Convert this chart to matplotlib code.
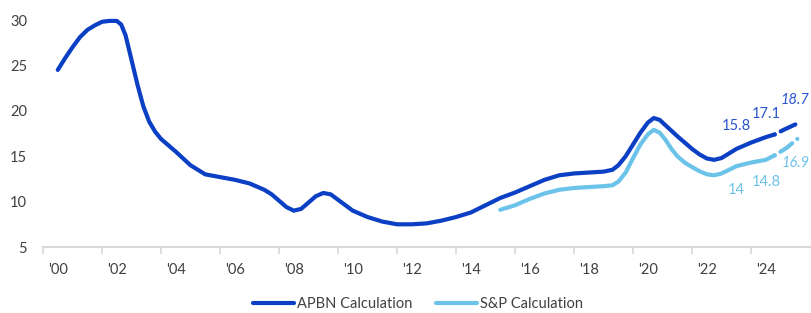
import matplotlib
matplotlib.use("Agg")
import matplotlib.pyplot as plt
import numpy as np

# ---------------- data (years since 2000) ----------------
apbn_x = [0.0, 0.25, 0.5, 0.75, 1.0, 1.25, 1.5, 1.75, 2.0, 2.15, 2.3, 2.5, 2.7,
          2.9, 3.1, 3.3, 3.5, 3.75, 4.0, 4.5, 5.0, 5.5, 6.0, 6.5, 7.0, 7.25, 7.5,
          7.75, 8.0, 8.25, 8.5, 8.75, 9.0, 9.25, 9.5, 9.75, 10.0, 10.5, 11.0,
          11.5, 12.0, 12.5, 13.0, 13.5, 14.0, 14.5, 15.0, 15.5, 16.0, 16.5,
          17.0, 17.5, 18.0, 18.5, 18.8, 19.0, 19.25, 19.5, 19.75, 20.0, 20.2,
          20.4, 20.6, 20.8, 21.0, 21.5, 21.75, 22.0, 22.25, 22.5, 23.0, 23.5,
          24.0, 24.3]
apbn_y = [24.5, 25.8, 27.0, 28.1, 28.9, 29.4, 29.8, 29.9, 29.9, 29.5, 28.3, 25.6,
          22.9, 20.5, 18.8, 17.7, 16.9, 16.2, 15.5, 14.0, 13.0, 12.7, 12.4, 12.0,
          11.3, 10.8, 10.1, 9.4, 9.0, 9.2, 9.9, 10.6, 10.95, 10.8, 10.2, 9.6,
          9.0, 8.3, 7.8, 7.5, 7.5, 7.6, 7.9, 8.3, 8.8, 9.6, 10.4, 11.0, 11.7,
          12.4, 12.9, 13.1, 13.2, 13.3, 13.5, 14.0, 15.0, 16.3, 17.6, 18.7, 19.2,
          19.0, 18.4, 17.8, 17.2, 15.8, 15.2, 14.75, 14.6, 14.8, 15.8, 16.5,
          17.1, 17.4]
apbn_proj_x = [24.3, 24.6, 25.0]
apbn_proj_y = [17.4, 17.9, 18.5]

sp_x = [15.0, 15.5, 16.0, 16.5, 17.0, 17.5, 18.0, 18.5, 18.8, 19.0, 19.25, 19.5,
        19.75, 20.0, 20.2, 20.4, 20.6, 20.8, 21.0, 21.25, 21.5, 21.75, 22.0,
        22.25, 22.5, 23.0, 23.5, 24.0, 24.3]
sp_y = [9.1, 9.6, 10.3, 10.9, 11.3, 11.5, 11.6, 11.7, 11.8, 12.2, 13.2, 14.8,
        16.3, 17.4, 17.9, 17.6, 16.8, 15.8, 15.0, 14.3, 13.8, 13.35, 13.0, 12.9,
        13.1, 13.9, 14.3, 14.6, 15.1]
sp_proj_x = [24.3, 24.7, 25.1]
sp_proj_y = [15.1, 15.9, 17.0]

label_years = [23, 24, 25]
apbn_labels = [15.8, 17.1, 18.7]
sp_labels = [14, 14.8, 16.9]
label_italic = [False, False, True]

tick_labels = ["'00", "'02", "'04", "'06", "'08", "'10", "'12", "'14", "'16",
               "'18", "'20", "'22", "'24"]
y_ticks = [5, 10, 15, 20, 25, 30]

# ---------------- style ----------------
plt.rcParams['font.family'] = ['Lato', 'DejaVu Sans']
DARK = '#0b3fc4'
LIGHT = '#6cc3ea'
DARK_TXT = '#2b55cc'
LIGHT_TXT = '#6cc3ea'
TXT = '#404040'

fig = plt.figure(figsize=(8.11, 3.13), dpi=100)
ax = fig.add_axes([43 / 811, 1 - 247 / 313, 1 - 43 / 811, (247 - 20) / 313])

lw = 3.0
ax.plot(apbn_x, apbn_y, color=DARK, lw=lw, solid_capstyle='round',
        solid_joinstyle='round', label='APBN Calculation', clip_on=False)
ax.plot(apbn_proj_x, apbn_proj_y, color=DARK, lw=lw, dashes=(0.01, 1.6, 4.5, 1.6),
        dash_capstyle='round', clip_on=False)
ax.plot(sp_x, sp_y, color=LIGHT, lw=lw, solid_capstyle='round',
        solid_joinstyle='round', label='S&P Calculation', clip_on=False)
ax.plot(sp_proj_x, sp_proj_y, color=LIGHT, lw=lw, dashes=(0.01, 1.6, 3.5, 1.6),
        dash_capstyle='round', clip_on=False)

for yr, v, it in zip(label_years, apbn_labels, label_italic):
    ax.annotate(f"{v:g}", xy=(yr, v), xytext=(0, 16.5), textcoords='offset points',
                ha='center', va='center', fontsize=10.5, color=DARK_TXT,
                style='italic' if it else 'normal', annotation_clip=False)
for yr, v, it in zip(label_years, sp_labels, label_italic):
    ax.annotate(f"{v:g}", xy=(yr, v), xytext=(0, -17.5), textcoords='offset points',
                ha='center', va='center', fontsize=10.5, color=LIGHT_TXT,
                style='italic' if it else 'normal', annotation_clip=False)

ax.set_xlim(-0.5, 25.53)
ax.set_ylim(5, 30)

# x ticks: marks between labels, labels on even years
ax.set_xticks(np.arange(-0.5, 25, 2))
ax.set_xticklabels([])
ax.set_xticks(np.arange(0, 25, 2), minor=True)
ax.set_xticklabels(tick_labels, minor=True)
ax.tick_params(axis='x', which='major', length=5, width=1.2, color='#d9d9d9')
ax.tick_params(axis='x', which='minor', length=0, pad=11.5, labelsize=10.5,
               labelcolor=TXT)

ax.set_yticks(y_ticks)
ax.tick_params(axis='y', length=0, pad=11.5, labelsize=10.5, labelcolor=TXT)

for s in ['top', 'right', 'left']:
    ax.spines[s].set_visible(False)
ax.spines['bottom'].set_color('#d9d9d9')
ax.spines['bottom'].set_linewidth(1.5)

fig.legend(handles=ax.lines[0:1] + ax.lines[2:3],
           labels=['APBN Calculation', 'S&P Calculation'],
           loc='center', bbox_to_anchor=(418 / 811, 1 - 304 / 313), ncol=2,
           frameon=False, fontsize=10.5, handlelength=2.8, handletextpad=0.2,
           columnspacing=1.6, labelcolor=TXT, borderpad=0.1)

fig.savefig('out.png', dpi=100)
